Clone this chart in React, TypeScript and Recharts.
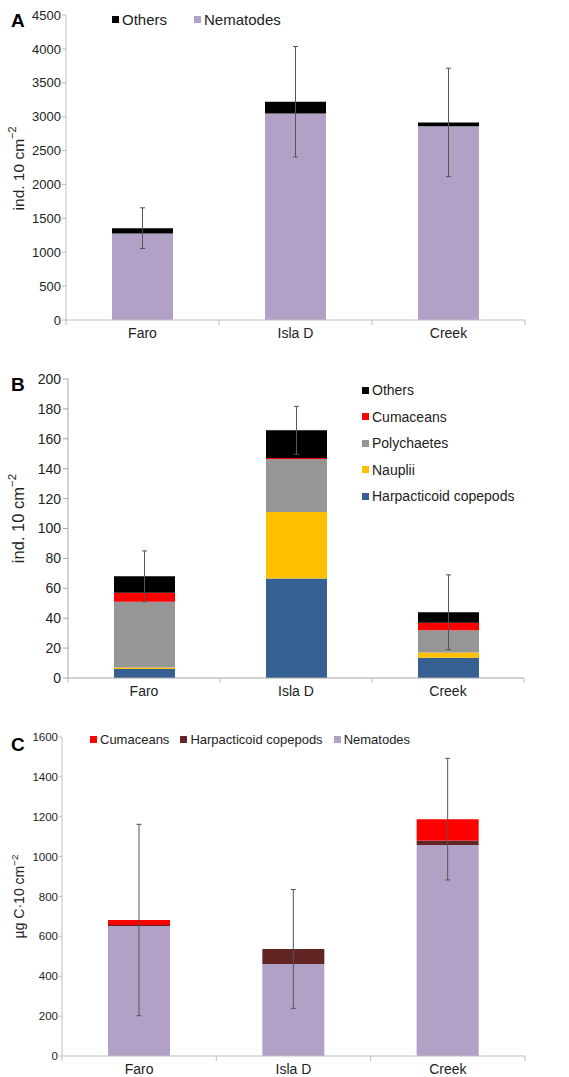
import React from 'react';
import { BarChart, Bar, XAxis, YAxis, ErrorBar } from 'recharts';

const sites = ['Faro', 'Isla D', 'Creek'];

// A - total densities
const nematodesA = [1275, 3045, 2860];
const othersA = [80, 175, 55];
const errA = [300, 815, 800];
const ticksA = [0, 500, 1000, 1500, 2000, 2500, 3000, 3500, 4000, 4500];

// B - other meiofauna densities
const harpB = [6, 66.5, 13.5];
const naupliiB = [1, 44.5, 3.5];
const polyB = [44, 35.5, 15];
const cumB = [6, 0.7, 5];
const othersB = [11, 18.5, 7];
const errB = [17, 16, 25];
const ticksB = [0, 20, 40, 60, 80, 100, 120, 140, 160, 180, 200];

// C - biomass
const nemC = [652, 462, 1058];
const harpC = [5, 75, 23];
const cumC = [25, 0, 107];
const errC = [480, 298, 305];
const ticksC = [0, 200, 400, 600, 800, 1000, 1200, 1400, 1600];

const NEM = '#b1a1c7';
const BLACK = '#000000';
const RED = '#ff0000';
const GREY = '#969696';
const YELLOW = '#ffc000';
const BLUE = '#376092';
const MAROON = '#632523';
const AXIS = '#bfbfbf';
const TEXT = '#222222';
const ERR = '#555555';
const FONT = '"Liberation Sans", Arial, sans-serif';

const dataA = sites.map((name, i) => ({ name, nematodes: nematodesA[i], others: othersA[i], err: errA[i] }));
const dataB = sites.map((name, i) => ({
  name, harp: harpB[i], nauplii: naupliiB[i], poly: polyB[i], cum: cumB[i], others: othersB[i], err: errB[i],
}));
// total is only used to hang the error bar on (Isla D has no cumaceans)
const dataC = sites.map((name, i) => ({
  name, nem: nemC[i], harp: harpC[i], cum: cumC[i], total: nemC[i] + harpC[i] + cumC[i], err: errC[i],
}));

const SiteTick = (props: any) => {
  const { x, y, payload, index, band, fontSize } = props;
  const axisY = y - 8;
  const half = band / 2;
  return (
    <g>
      {index === 0 && <line x1={x - half} y1={axisY} x2={x - half} y2={axisY + 5} stroke={AXIS} />}
      <line x1={x + half} y1={axisY} x2={x + half} y2={axisY + 5} stroke={AXIS} />
      <text x={x} y={y} dy="0.71em" textAnchor="middle" fontSize={fontSize} fill={TEXT}>
        {payload.value}
      </text>
    </g>
  );
};

const YTitle = (props: any) => {
  const { viewBox, text, fontSize, cx, shift = 0 } = props;
  const cy = viewBox.y + viewBox.height / 2 + shift;
  return (
    <text transform={`rotate(-90 ${cx} ${cy})`} x={cx} y={cy} textAnchor="middle" dominantBaseline="central" fontSize={fontSize} fill={TEXT}>
      {text}
      <tspan fontSize={fontSize * 0.7} dy="-0.55em">−2</tspan>
    </text>
  );
};

const Key = ({ color, label, fontSize }: { color: string; label: string; fontSize: number }) => (
  <div style={{ display: 'flex', alignItems: 'center', fontSize, color: TEXT, whiteSpace: 'nowrap' }}>
    <span style={{ width: 7, height: 7, background: color, marginRight: 3, display: 'inline-block' }} />
    {label}
  </div>
);

const Letter = ({ ch, top }: { ch: string; top: number }) => (
  <div style={{ position: 'absolute', left: 11, top, fontSize: 19, fontWeight: 'bold', color: '#000', lineHeight: '20px' }}>{ch}</div>
);

const PanelA = () => (
  <div style={{ position: 'absolute', left: 0, top: 0, width: 569, height: 345 }}>
    <BarChart width={569} height={345} data={dataA} margin={{ top: 15, right: 44, left: 0, bottom: 0 }} barSize={61}>
      <XAxis dataKey="name" height={25} interval={0} tickSize={0} tickMargin={8} axisLine={{ stroke: AXIS }} tickLine={false}
        tick={(p: any) => <SiteTick {...p} band={153} fontSize={14} />} />
      <YAxis width={66} domain={[0, 4500]} ticks={ticksA} interval={0} tickSize={4} tickMargin={1}
        axisLine={{ stroke: AXIS }} tickLine={{ stroke: AXIS }} tick={{ fontSize: 13, fill: TEXT }}
        label={{ content: (p: any) => <YTitle {...p} text="ind. 10 cm" fontSize={15.5} cx={18} shift={1} /> }} />
      <Bar dataKey="nematodes" stackId="a" fill={NEM} isAnimationActive={false} />
      <Bar dataKey="others" stackId="a" fill={BLACK} isAnimationActive={false}>
        <ErrorBar dataKey="err" width={2.5} stroke={ERR} strokeWidth={1} isAnimationActive={false} />
      </Bar>
    </BarChart>
    <div style={{ position: 'absolute', left: 112, top: 11, display: 'flex', gap: 27 }}>
      <Key color={BLACK} label="Others" fontSize={15} />
      <Key color={NEM} label="Nematodes" fontSize={15} />
    </div>
    <Letter ch="A" top={11} />
  </div>
);

const PanelB = () => (
  <div style={{ position: 'absolute', left: 0, top: 350, width: 569, height: 352 }}>
    <BarChart width={569} height={352} data={dataB} margin={{ top: 29, right: 45, left: 0, bottom: 0 }} barSize={61}>
      <XAxis dataKey="name" height={24} interval={0} tickSize={0} tickMargin={8} axisLine={{ stroke: '#a6a6a6' }} tickLine={false}
        tick={(p: any) => <SiteTick {...p} band={152} fontSize={14} />} />
      <YAxis width={68} domain={[0, 200]} ticks={ticksB} interval={0} tickSize={5} tickMargin={2}
        axisLine={{ stroke: '#a6a6a6' }} tickLine={{ stroke: '#a6a6a6' }} tick={{ fontSize: 14, fill: TEXT }}
        label={{ content: (p: any) => <YTitle {...p} text="ind. 10 cm" fontSize={16.5} cx={18} shift={-10} /> }} />
      <Bar dataKey="harp" stackId="b" fill={BLUE} isAnimationActive={false} />
      <Bar dataKey="nauplii" stackId="b" fill={YELLOW} isAnimationActive={false} />
      <Bar dataKey="poly" stackId="b" fill={GREY} isAnimationActive={false} />
      <Bar dataKey="cum" stackId="b" fill={RED} isAnimationActive={false} />
      <Bar dataKey="others" stackId="b" fill={BLACK} isAnimationActive={false}>
        <ErrorBar dataKey="err" width={2.5} stroke={ERR} strokeWidth={1} isAnimationActive={false} />
      </Bar>
    </BarChart>
    <div style={{ position: 'absolute', left: 362, top: 32, display: 'flex', flexDirection: 'column', gap: 10.5 }}>
      <Key color={BLACK} label="Others" fontSize={14} />
      <Key color={RED} label="Cumaceans" fontSize={14} />
      <Key color={GREY} label="Polychaetes" fontSize={14} />
      <Key color={YELLOW} label="Nauplii" fontSize={14} />
      <Key color={BLUE} label="Harpacticoid copepods" fontSize={14} />
    </div>
    <Letter ch="B" top={25} />
  </div>
);

const PanelC = () => (
  <div style={{ position: 'absolute', left: 0, top: 715, width: 569, height: 362 }}>
    <BarChart width={569} height={362} data={dataC} margin={{ top: 22, right: 44, left: 0, bottom: 0 }} barSize={62}>
      <XAxis dataKey="name" height={21} interval={0} tickSize={0} tickMargin={8} axisLine={{ stroke: AXIS }} tickLine={false}
        tick={(p: any) => <SiteTick {...p} band={154.3} fontSize={14} />} />
      <XAxis xAxisId="err" dataKey="name" hide />
      <YAxis width={62} domain={[0, 1600]} ticks={ticksC} interval={0} tickSize={3} tickMargin={1}
        axisLine={{ stroke: AXIS }} tickLine={{ stroke: AXIS }} tick={{ fontSize: 11.5, fill: TEXT }}
        label={{ content: (p: any) => <YTitle {...p} text="µg C·10 cm" fontSize={14} cx={19} /> }} />
      <Bar dataKey="nem" stackId="c" fill={NEM} isAnimationActive={false} />
      <Bar dataKey="harp" stackId="c" fill={MAROON} isAnimationActive={false} />
      <Bar dataKey="cum" stackId="c" fill={RED} isAnimationActive={false} />
      <Bar dataKey="total" xAxisId="err" fill="none" isAnimationActive={false} legendType="none">
        <ErrorBar dataKey="err" width={2.5} stroke={ERR} strokeWidth={1} isAnimationActive={false} />
      </Bar>
    </BarChart>
    <div style={{ position: 'absolute', left: 90, top: 17, display: 'flex', gap: 11 }}>
      <Key color={RED} label="Cumaceans" fontSize={13} />
      <Key color={MAROON} label="Harpacticoid copepods" fontSize={13} />
      <Key color={NEM} label="Nematodes" fontSize={13} />
    </div>
    <Letter ch="C" top={20} />
  </div>
);

export default function App() {
  return (
    <div style={{ position: 'absolute', left: 0, top: 0, width: 569, height: 1077, background: '#fff', fontFamily: FONT }}>
      <PanelA />
      <PanelB />
      <PanelC />
    </div>
  );
}
